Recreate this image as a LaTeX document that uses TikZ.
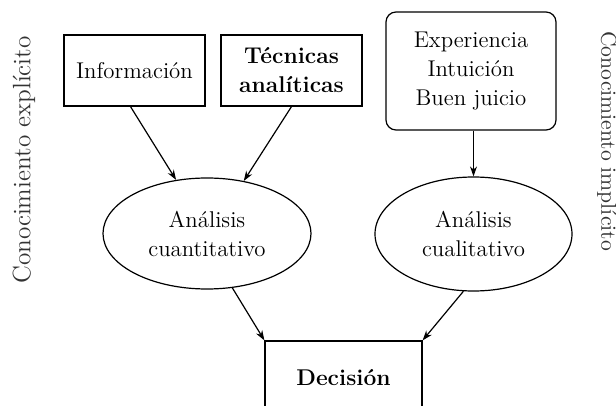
\documentclass[tikz,border=0pt]{standalone}
\usetikzlibrary{shapes.geometric,arrows.meta}

\tikzset{
    caja/.style={draw, line width=0.6pt, inner sep=0pt, align=center,
        font=\fontsize{11.4}{14.5}\selectfont},
    elipse/.style={draw, ellipse, line width=0.6pt, inner sep=0pt, align=center,
        font=\fontsize{11.4}{14.5}\selectfont},
    flecha/.style={-{Stealth[length=5pt,width=3.5pt]}, line width=0.6pt},
}

\begin{document}
\begin{tikzpicture}[x=0.5pt, y=-0.5pt]
    \useasboundingbox (0,0) rectangle (616,406);
    \clip (0,0) rectangle (616,406);

    % Entradas
    \node[caja, minimum width=70.5pt, minimum height=35.5pt] (info) at (134.5, 70.5) {Información};
    \node[caja, minimum width=70.5pt, minimum height=35.5pt, font=\fontsize{11.4}{14.5}\selectfont\bfseries] (tecnicas) at (291.5, 70.5) {Técnicas\\analíticas};
    \node[caja, rounded corners=5pt, minimum width=85pt, minimum height=59pt] (exper) at (471, 71) {Experiencia\\Intuición\\Buen juicio};

    % Análisis
    \node[elipse, minimum width=104pt, minimum height=55.5pt] (cuanti) at (207, 233.5) {Análisis\\cuantitativo};
    \node[elipse, minimum width=98.5pt, minimum height=57pt] (cuali) at (473.5, 234) {Análisis\\cualitativo};

    % Decisión (sale por abajo)
    \node[caja, minimum width=78.5pt, minimum height=37pt, font=\fontsize{11.4}{14.5}\selectfont\bfseries] (decision) at (343.5, 378) {Decisión};

    % Flechas
    \draw[flecha] ([xshift=-2pt]info.south) -- (cuanti.120);
    \draw[flecha] (tecnicas.south) -- (cuanti.55);
    \draw[flecha] (exper.south -| cuali.north) -- (cuali.north);
    \draw[flecha] (cuanti.-65) -- (decision.north west);
    \draw[flecha] (cuali.-100) -- (decision.north east);

    % Rótulos laterales
    \node[rotate=90, font=\fontsize{12.6}{14}\selectfont, text=black!80] (explicito) at (24, 160) {Conocimiento explícito};
    \node[rotate=-90, font=\fontsize{10.8}{14}\selectfont, text=black!80] (implicito) at (607, 141) {Conocimiento implícito};
\end{tikzpicture}
\end{document}
